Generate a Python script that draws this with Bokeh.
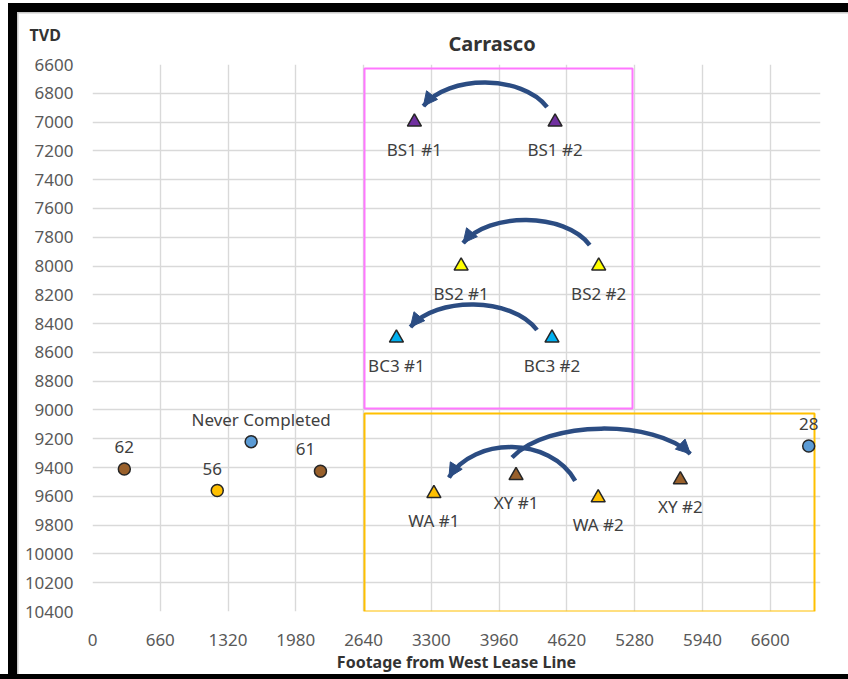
from bokeh.plotting import figure
from bokeh.models import ColumnDataSource, Range1d, Arrow, NormalHead, Title
from bokeh.core.properties import value
from bokeh.embed import file_html
from bokeh.resources import INLINE

# ---------------- data ----------------
title_text = "Carrasco"
x_title = "Footage from West Lease Line"
y_title = "TVD"

x_ticks = [0, 660, 1320, 1980, 2640, 3300, 3960, 4620, 5280, 5940, 6600]
x_tick_labels = ["0", "660", "1320", "1980", "2640", "3300", "3960", "4620", "5280", "5940", "6600"]
y_ticks = [6600, 6800, 7000, 7200, 7400, 7600, 7800, 8000, 8200, 8400, 8600, 8800,
           9000, 9200, 9400, 9600, 9800, 10000, 10200, 10400]
y_tick_labels = [str(v) for v in y_ticks]

# existing wells (circles)
old_labels = ["62", "56", "Never Completed", "61", "28"]
old_x = [310, 1215, 1545, 2220, 6975]
old_y = [9410, 9560, 9220, 9425, 9250]
old_colors = ["#99602B", "#FFC000", "#5B9BD5", "#99602B", "#5B9BD5"]

# proposed wells (triangles)
new_labels = ["BS1 #1", "BS1 #2", "BS2 #1", "BS2 #2", "BC3 #1", "BC3 #2",
              "WA #1", "WA #2", "XY #1", "XY #2"]
new_x = [3135, 4505, 3590, 4930, 2960, 4475, 3325, 4925, 4125, 5725]
new_y = [7000, 7000, 8000, 8000, 8500, 8500, 9580, 9610, 9455, 9485]
new_colors = ["#7030A0", "#7030A0", "#FFFF00", "#FFFF00", "#00B0F0", "#00B0F0",
              "#FFC000", "#FFC000", "#99602B", "#99602B"]

# moves shown by curved arrows (from -> to, arrow head at "to")
moves = [("BS1 #2", "BS1 #1"), ("BS2 #2", "BS2 #1"), ("BC3 #2", "BC3 #1"),
         ("WA #2", "WA #1"), ("XY #1", "XY #2")]

# ---------------- layout / style ----------------
X_MAX = 7090
FRAME_W, FRAME_H = 728, 547
FRAME_L, FRAME_T = 92, 64          # page px of the frame corner
W, H = 848, 679
ux = X_MAX / FRAME_W
uy = (y_ticks[-1] - y_ticks[0]) / FRAME_H

def at(px, py):
    return (px - FRAME_L) * ux, y_ticks[0] + (py - FRAME_T) * uy

# per-arc pixel styling: (start dx, start dy, end dx, end dy, rise)
arc_style = [(-8, -15, 9, -16, 24), (-9, -21, 2, -23, 24), (-15, -8, 14, -11, 24),
             (-23, -17, 15, -16, 32), (-4, -18, 10, -26, 27)]
old_dx = [0, -5, 10, -15, 0]
ARC_COLOR = "#2B4C82"
FONT = "Noto Sans"
TXT = "#404040"

p = figure(frame_width=FRAME_W, frame_height=FRAME_H,
           x_range=Range1d(0, X_MAX), y_range=Range1d(y_ticks[-1], y_ticks[0]),
           output_backend="svg", toolbar_location=None,
           min_border_left=FRAME_L, min_border_top=FRAME_T,
           min_border_right=W - FRAME_L - FRAME_W, min_border_bottom=H - FRAME_T - FRAME_H)
p.border_fill_color = None
p.background_fill_color = "white"
p.outline_line_color = None
bars = [
    ("#000000", "8px 3px / 9px 100%"),
    ("#000000", "8px 3px / 100% 9px"),
    ("#000000", "0px 674px / 100% 10px"),
    ("#C8C8C8", "17px 12px / 1.5px 100%"),
    ("#C8C8C8", "17px 12px / 100% 1.5px"),
]
p.styles = {"background": ", ".join(f"linear-gradient({c},{c}) {g} no-repeat" for c, g in bars) + ", white"}

for ax, ticks, labels in ((p.xaxis, x_ticks, x_tick_labels), (p.yaxis, y_ticks, y_tick_labels)):
    ax.ticker = ticks
    ax.major_label_overrides = {t: l for t, l in zip(ticks, labels)}
    ax.axis_line_color = None
    ax.major_tick_line_color = None
    ax.minor_tick_line_color = None
    ax.major_label_text_font = FONT
    ax.major_label_text_font_size = "17px"
    ax.major_label_text_color = "#595959"
p.xaxis.major_label_standoff = 16
p.yaxis.major_label_standoff = 13
p.xaxis.axis_label = x_title
p.xaxis.axis_label_text_font = FONT
p.xaxis.axis_label_text_font_size = "16px"
p.xaxis.axis_label_text_font_style = "bold"
p.xaxis.axis_label_text_color = "#333333"
p.xaxis.axis_label_standoff = 2

# chart title (outer panel) and "TVD" caption (inner panel)
p.title = Title(text=title_text, align="left", offset=448 - FRAME_L,
                text_font=FONT, text_font_size="20px", text_font_style="bold",
                text_color="#333333", standoff=-106)
p.add_layout(Title(text=y_title, align="left", offset=29 - FRAME_L,
                   text_font=FONT, text_font_size="16px", text_font_style="bold",
                   text_color="#333333", standoff=37), "above")

p.grid.grid_line_color = "#D9D9D9"
p.grid.grid_line_width = 1.4

# highlight boxes
pl, pt = at(364, 68)
pr, pb = at(632, 408)
p.quad(left=[pl], right=[pr], top=[pt], bottom=[pb], fill_color=None,
       line_color="#FF77FF", line_width=2)
yl, yt = at(364, 413)
yr, yb = at(814, 611)
p.quad(left=[yl], right=[yr], top=[yt], bottom=[yb], fill_color=None,
       line_color="#FFC000", line_width=2)

# curved arrows
pos = {l: (x, y) for l, x, y in zip(new_labels, new_x, new_y)}
for (a, b), (sdx, sdy, edx, edy, rise) in zip(moves, arc_style):
    x0 = pos[a][0] + sdx * ux
    y0 = pos[a][1] + sdy * uy
    x3 = pos[b][0] + edx * ux
    y3 = pos[b][1] + edy * uy
    yc = (y0 + y3) / 2 - rise / 0.75 * uy
    x1 = x0 + (x3 - x0) * 0.2
    x2 = x3 - (x3 - x0) * 0.2
    p.bezier(x0=[x0], y0=[y0], x1=[x3], y1=[y3], cx0=[x1], cy0=[yc], cx1=[x2], cy1=[yc],
             line_color=ARC_COLOR, line_width=4.5)
    p.add_layout(Arrow(x_start=x2, y_start=yc, x_end=x3, y_end=y3, line_alpha=0,
                       end=NormalHead(size=14, fill_color=ARC_COLOR, line_color=ARC_COLOR)))

# markers
old_src = ColumnDataSource(dict(x=old_x, y=old_y, c=old_colors, t=old_labels, dx=old_dx))
new_src = ColumnDataSource(dict(x=new_x, y=new_y, c=new_colors, t=new_labels))
p.scatter("x", "y", source=old_src, marker="circle", size=12, fill_color="c",
          line_color="#262626", line_width=1.5)
p.scatter("x", "y", source=new_src, marker="triangle", size=14, fill_color="c",
          line_color="#262626", line_width=1.5)

p.text("x", "y", text="t", source=old_src, x_offset="dx", y_offset=-22,
       text_align="center", text_baseline="middle", text_font=value(FONT),
       text_font_size="17px", text_color=TXT)
p.text("x", "y", text="t", source=new_src, y_offset=27,
       text_align="center", text_baseline="middle", text_font=value(FONT),
       text_font_size="17px", text_color=TXT)

open("out.html", "w").write(file_html(p, INLINE))
